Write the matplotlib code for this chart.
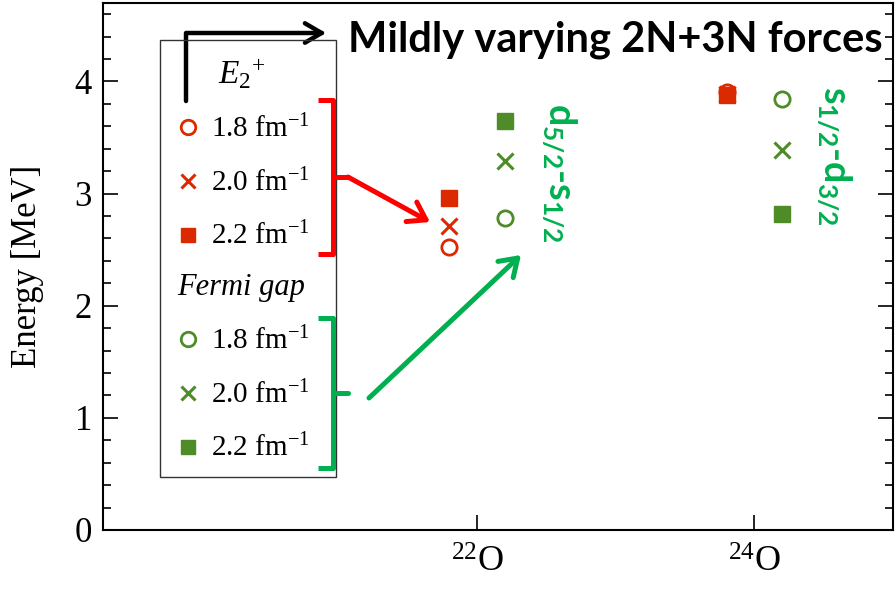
import numpy as np
import matplotlib.pyplot as plt
from matplotlib.lines import Line2D
from matplotlib.patches import Rectangle
from matplotlib.ticker import MultipleLocator

plt.rcParams.update({
    "font.family": "Liberation Serif",
    "mathtext.fontset": "custom",
    "mathtext.rm": "Liberation Serif",
    "mathtext.it": "Liberation Serif:italic",
    "mathtext.bf": "Lato:bold",
})

# oxygen isotopes, energies in MeV for three cutoffs
nuclei = [22, 24]
nuclei_labels = [r'$^{22}$O', r'$^{24}$O']
cutoffs = ['1.8', '2.0', '2.2']
e2_18 = [2.52, 3.91]
e2_20 = [2.71, 3.89]
e2_22 = [2.96, 3.88]
gap_18 = [2.78, 3.84]
gap_20 = [3.29, 3.39]
gap_22 = [3.65, 2.82]

red = '#dc2a00'
green = '#4d8c26'
bright_red = '#ff0000'
bright_green = '#00b050'

W, H = 896, 591
fig = plt.figure(figsize=(W / 100, H / 100), dpi=100)
ax = fig.add_axes([103 / W, 61 / H, 790 / W, 527 / H])

def fig_px(x, y):
    # pixel position measured from the top left corner -> figure fraction
    return (x / W, 1 - y / H)

x = np.array(nuclei, dtype=float)
xl = x - 0.2
xr = x + 0.2
ms = 11
h1, = ax.plot(xl, e2_18, 'o', ms=ms, mfc='none', mec=red, mew=2.0, zorder=4)
h2, = ax.plot(xl, e2_20, 'x', ms=ms, mec=red, mew=2.2, zorder=3)
h3, = ax.plot(xl, e2_22, 's', ms=ms, color=red, zorder=2)
g1, = ax.plot(xr, gap_18, 'o', ms=ms, mfc='none', mec=green, mew=2.0)
g2, = ax.plot(xr, gap_20, 'x', ms=ms, mec=green, mew=2.2)
g3, = ax.plot(xr, gap_22, 's', ms=ms, color=green)

ax.set_xlim(19.3, 25.0)
ax.set_ylim(0, 4.7)
ax.set_xticks(nuclei)
ax.set_xticklabels(nuclei_labels, fontsize=26)
ax.set_yticks([0, 1, 2, 3, 4])
ax.yaxis.set_minor_locator(MultipleLocator(0.2))
ax.tick_params(axis='y', which='both', direction='in', right=True, labelsize=25, pad=8)
ax.tick_params(axis='y', which='major', length=11, width=1.2)
ax.tick_params(axis='y', which='minor', length=6, width=1.2)
ax.tick_params(axis='x', direction='in', length=11, width=1.2, pad=12)
for s in ax.spines.values():
    s.set_linewidth(1.5)
ax.set_ylabel('Energy [MeV]', fontsize=25, labelpad=22)

# legend: two frameless blocks inside one shared frame
labels = [c + r' fm$^{-1}$' for c in cutoffs]
leg_kw = dict(frameon=False, fontsize=21, handlelength=1.0, handletextpad=0.3,
              labelspacing=0.86, borderpad=0, borderaxespad=0, markerscale=0.95,
              loc='upper left', bbox_transform=fig.transFigure)
leg1 = ax.legend([h1, h2, h3], labels, title=r'$E_2{}^{+}$',
                 title_fontproperties={'size': 24},
                 bbox_to_anchor=fig_px(173, 56), **leg_kw)
ax.add_artist(leg1)
leg2 = ax.legend([g1, g2, g3], labels, title='Fermi gap',
                 title_fontproperties={'size': 22, 'style': 'italic'},
                 bbox_to_anchor=fig_px(173, 273), **leg_kw)
fx0, fy0 = fig_px(160, 477)
fx1, fy1 = fig_px(336, 40)
fig.add_artist(Rectangle((fx0, fy0), fx1 - fx0, fy1 - fy0, transform=fig.transFigure,
                         fill=False, lw=1.0, ec='#333333', zorder=5))

# black corner arrow and headline
ax.annotate('', xy=fig_px(326, 33), xytext=fig_px(186, 101),
            xycoords='figure fraction', textcoords='figure fraction',
            arrowprops=dict(arrowstyle='->,head_length=0.6,head_width=0.35', lw=3.2,
                            color='black', shrinkA=0, shrinkB=0, mutation_scale=20,
                            connectionstyle='angle,angleA=90,angleB=0,rad=0'))
fig.text(*fig_px(615, 40), 'Mildly varying 2N+3N forces', fontfamily='Lato',
         fontweight='bold', fontsize=30, ha='center', va='center')

# brackets with arrows
def bracket(top, bottom, mid, color):
    xs = [318, 333, 333, 318]
    ys = [top, top, bottom, bottom]
    pts = [fig_px(a, b) for a, b in zip(xs, ys)]
    fig.add_artist(Line2D([p[0] for p in pts], [p[1] for p in pts], lw=3.6, color=color,
                          solid_joinstyle='round', solid_capstyle='butt', zorder=6))
    p, q = fig_px(333, mid), fig_px(348, mid)
    fig.add_artist(Line2D([p[0], q[0]], [p[1], q[1]], lw=3.6, color=color,
                          solid_capstyle='round', zorder=6))

bracket(100, 254, 177, bright_red)
bracket(318, 468, 393, bright_green)
arrow_kw = dict(arrowstyle='->,head_length=0.6,head_width=0.4', lw=3.6,
                shrinkA=0, shrinkB=0, mutation_scale=20)
ax.annotate('', xy=fig_px(430, 222), xytext=fig_px(348, 177),
            xycoords='figure fraction', textcoords='figure fraction',
            arrowprops=dict(color=bright_red, **arrow_kw))
ax.annotate('', xy=fig_px(521, 255), xytext=fig_px(369, 398),
            xycoords='figure fraction', textcoords='figure fraction',
            arrowprops=dict(color=bright_green, **arrow_kw))

# orbital labels
orb_kw = dict(fontfamily='Lato', fontweight='bold', fontsize=27, color=bright_green,
              rotation=-90, ha='center', va='center')
ax.text(22.6, 3.19, r'$\mathbf{d_{5/2}}$-$\mathbf{s_{1/2}}$', **orb_kw)
ax.text(24.58, 3.34, r'$\mathbf{s_{1/2}}$-$\mathbf{d_{3/2}}$', **orb_kw)

fig.savefig('out.png', dpi=100)
